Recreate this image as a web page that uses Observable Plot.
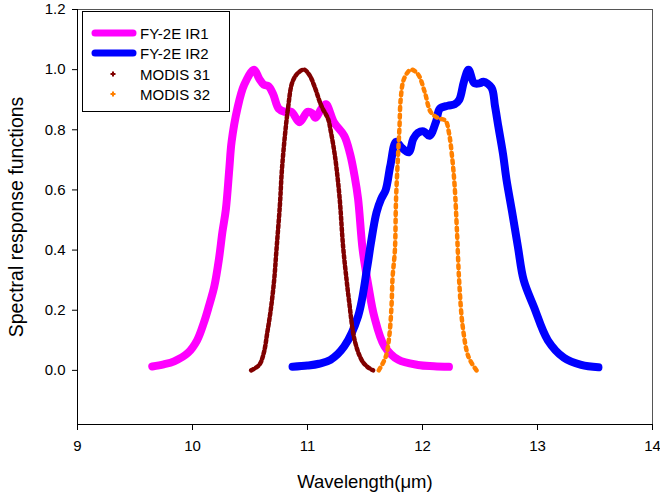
<!DOCTYPE html>
<html><head><meta charset="utf-8">
<script src="https://cdn.jsdelivr.net/npm/d3@7"></script>
<script src="https://cdn.jsdelivr.net/npm/@observablehq/plot@0.6"></script>
<style>
body{margin:0;background:#fff;font-family:"Liberation Sans",Arial,sans-serif;}
#wrap{position:relative;width:660px;height:499px;}
#legend{position:absolute;left:82px;top:11px;width:148px;height:101px;border:1px solid #000;background:#fff;box-sizing:border-box;}
.lab{position:absolute;font-size:18.5px;color:#000;white-space:nowrap;}
</style></head>
<body><div id="wrap"></div>
<script>
const ir1X=[9.65,9.75,9.84,9.96,10.04,10.10,10.14,10.19,10.23,10.26,10.29,10.32,10.34,10.39,10.45,10.535,10.58,10.62,10.66,10.70,10.75,10.80,10.86,10.93,11.00,11.04,11.07,11.12,11.16,11.23,11.32,11.37,11.41,11.44,11.48,11.53,11.58,11.67,11.79,11.96,12.10,12.23];
const ir1Y=[0.013,0.02,0.03,0.058,0.10,0.16,0.21,0.28,0.37,0.46,0.535,0.67,0.76,0.87,0.95,1.0,0.97,0.95,0.945,0.92,0.87,0.86,0.86,0.825,0.86,0.855,0.84,0.87,0.885,0.825,0.78,0.72,0.645,0.57,0.40,0.28,0.18,0.08,0.035,0.018,0.014,0.012];
const ir2X=[10.87,11.00,11.10,11.20,11.32,11.44,11.52,11.55,11.60,11.64,11.68,11.72,11.77,11.82,11.88,11.92,11.96,12.01,12.06,12.12,12.15,12.22,12.28,12.32,12.36,12.40,12.45,12.50,12.53,12.60,12.63,12.66,12.70,12.73,12.78,12.83,12.88,12.97,13.09,13.23,13.38,13.53];
const ir2Y=[0.012,0.016,0.022,0.035,0.08,0.18,0.345,0.42,0.525,0.57,0.60,0.68,0.76,0.74,0.725,0.77,0.79,0.795,0.78,0.83,0.87,0.88,0.885,0.90,0.96,1.0,0.955,0.955,0.96,0.94,0.88,0.81,0.72,0.635,0.525,0.41,0.30,0.21,0.10,0.042,0.018,0.01];
const m31X=[10.51,10.58,10.62,10.65,10.68,10.71,10.73,10.76,10.78,10.83,10.87,10.92,10.97,11.02,11.06,11.12,11.18,11.20,11.23,11.25,11.28,11.31,11.34,11.36,11.41,11.47,11.52,11.57];
const m31Y=[0.0,0.018,0.058,0.125,0.20,0.30,0.40,0.55,0.68,0.87,0.96,0.99,1.0,0.98,0.945,0.88,0.835,0.80,0.735,0.68,0.57,0.41,0.30,0.235,0.10,0.035,0.012,0.0];
const m32X=[11.62,11.68,11.71,11.73,11.74,11.76,11.77,11.79,11.80,11.81,11.84,11.90,11.96,12.02,12.07,12.13,12.20,12.23,12.26,12.28,12.30,12.32,12.35,12.40,12.47];
const m32Y=[0.0,0.045,0.11,0.21,0.31,0.40,0.57,0.735,0.81,0.90,0.97,1.0,0.985,0.925,0.86,0.84,0.83,0.79,0.70,0.61,0.46,0.29,0.145,0.045,0.0];
const xTicks=[9,10,11,12,13,14];
const yTicks=[0,0.2,0.4,0.6,0.8,1.0,1.2];
const seriesNames=["FY-2E IR1","FY-2E IR2","MODIS 31","MODIS 32"];
const colors=["#ff00ff","#0000ff","#800000","#ff8000"];

const mk=(xs,ys)=>xs.map((x,i)=>({x,y:ys[i]}));
const ir1=mk(ir1X,ir1Y), ir2=mk(ir2X,ir2Y), m31=mk(m31X,m31Y), m32=mk(m32X,m32Y);

const chart=Plot.plot({
  width:660,height:499,
  marginLeft:77,marginRight:8,marginTop:9,marginBottom:75,
  style:{fontFamily:"Liberation Sans, Arial, sans-serif",fontSize:"15px",color:"#000",background:"#fff"},
  x:{domain:[9,14],ticks:xTicks,label:null,tickSize:6,tickPadding:10,tickFormat:d3.format("d")},
  y:{domain:[-0.18,1.2],ticks:yTicks,label:null,tickSize:5,tickPadding:7,tickFormat:d3.format(".1f")},
  marks:[
    Plot.frame({stroke:"#555",strokeWidth:1}),
    Plot.ruleX([9],{stroke:"#000"}),
    Plot.ruleY([-0.18],{stroke:"#000"}),
    Plot.line(ir1,{x:"x",y:"y",stroke:colors[0],strokeWidth:8,curve:"catmull-rom",strokeLinecap:"round",strokeLinejoin:"round"}),
    Plot.line(ir2,{x:"x",y:"y",stroke:colors[1],strokeWidth:8,curve:"catmull-rom",strokeLinecap:"round",strokeLinejoin:"round"}),
    Plot.line(m31,{x:"x",y:"y",stroke:colors[2],strokeWidth:4.5,curve:"catmull-rom",strokeDasharray:"3,2.5"}),
    Plot.line(m32,{x:"x",y:"y",stroke:colors[3],strokeWidth:4.5,curve:"catmull-rom",strokeDasharray:"3,4.5"}),
    Plot.axisX({ticks:xTicks,tickSize:6,tickPadding:10,tickFormat:d3.format("d"),label:null}),
    Plot.axisY({ticks:yTicks,tickSize:5,tickPadding:7,tickFormat:d3.format(".1f"),label:null})
  ]
});
const wrap=document.getElementById("wrap");
wrap.appendChild(chart);

// Legend
const lg=document.createElement("div");lg.id="legend";
const rows=[21,41,62,82];
let svg=`<svg width="146" height="99" style="position:absolute;left:0;top:0">`;
seriesNames.forEach((n,i)=>{
  const cy=rows[i];
  if(i<2){
    svg+=`<line x1="12" x2="50" y1="${cy}" y2="${cy}" stroke="${colors[i]}" stroke-width="7" stroke-linecap="round"/>`;
  } else {
    svg+=`<path d="M${30-2.5},${cy}h5M30,${cy-2.5}v5" stroke="${colors[i]}" stroke-width="2"/>`;
  }
  svg+=`<text x="57" y="${cy+5.5}" font-size="15" font-family="Liberation Sans, Arial, sans-serif" fill="#000">${n}</text>`;
});
svg+=`</svg>`;
lg.innerHTML=svg;
wrap.appendChild(lg);

const xl=document.createElement("div");xl.className="lab";xl.textContent="Wavelength(μm)";
xl.style.left="0px";xl.style.width="730px";xl.style.textAlign="center";xl.style.top="471px";
wrap.appendChild(xl);
const yl=document.createElement("div");yl.className="lab";yl.textContent="Spectral response functions";
yl.style.fontSize="19.5px";
yl.style.left="16px";yl.style.top="217px";yl.style.transform="translate(-50%,-50%) rotate(-90deg)";
wrap.appendChild(yl);
</script></body></html>
